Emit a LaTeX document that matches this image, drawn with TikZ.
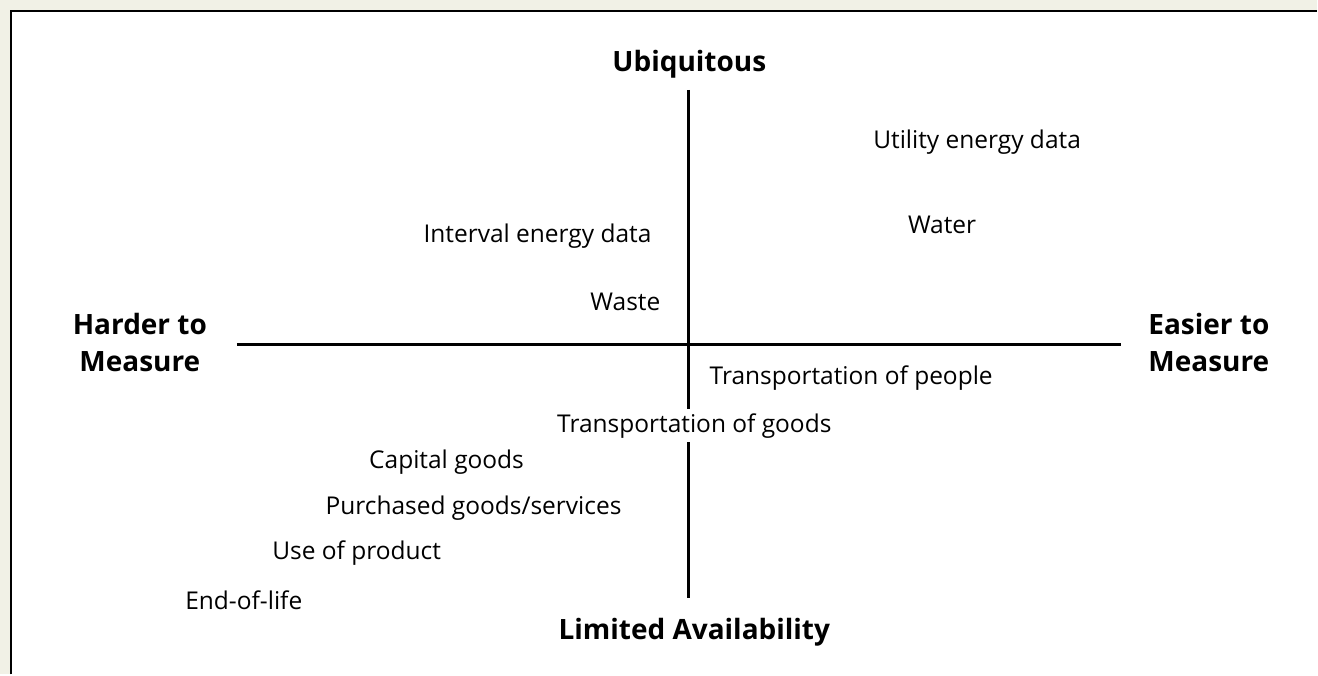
\documentclass[tikz,border=0pt]{standalone}
\usepackage{fontspec}
\setmainfont{Open Sans}
\usetikzlibrary{positioning}

\definecolor{paper}{RGB}{241,241,230}

\tikzset{
	item/.style={font=\fontsize{24.5}{29}\selectfont, inner sep=2pt},
	pole/.style={font=\bfseries\fontsize{28}{37}\selectfont, align=center, inner sep=2pt},
	axis/.style={line width=3.6pt}
}

\begin{document}
\begin{tikzpicture}[x=1pt, y=-1pt]
	\fill[paper] (0,0) rectangle (1318,675);
	\fill[white] (10,10) rectangle (1318,675);
	\draw[line width=2.5pt] (11,675) -- (11,11) -- (1318,11);
	\useasboundingbox (0,0) rectangle (1318,675);

	% axes end points
	\coordinate (north) at (689,90);
	\coordinate (south) at (689,599);
	\coordinate (west) at (237,345);
	\coordinate (east) at (1122,345);

	% poles
	\node[pole] (ubiq) at (690,64) {Ubiquitous};
	\node[pole] (limited) at (695,633) {Limited Availability};
	\node[pole] (harder) at (140,343) {Harder to\\Measure};
	\node[pole] (easier) at (1210,343) {Easier to\\Measure};

	% sources
	\node[item] (utility) at (978,142) {Utility energy data};
	\node[item] (water) at (943,225) {Water};
	\node[item] (interval) at (538,236) {Interval energy data};
	\node[item] (waste) at (626,302) {Waste};
	\node[item] (people) at (852,378) {Transportation of people};
	\node[item, inner sep=4pt] (goods) at (695,426) {Transportation of goods};
	\node[item] (capital) at (447,463) {Capital goods};
	\node[item] (purchased) at (474,509) {Purchased goods/services};
	\node[item] (use) at (357,554) {Use of product};
	\node[item] (eol) at (244,601) {End-of-life};

	\draw[axis] (west) -- (east);
	\draw[axis] (north) -- (north |- goods.north);
	\draw[axis] (south |- goods.south) -- (south);
\end{tikzpicture}
\end{document}
